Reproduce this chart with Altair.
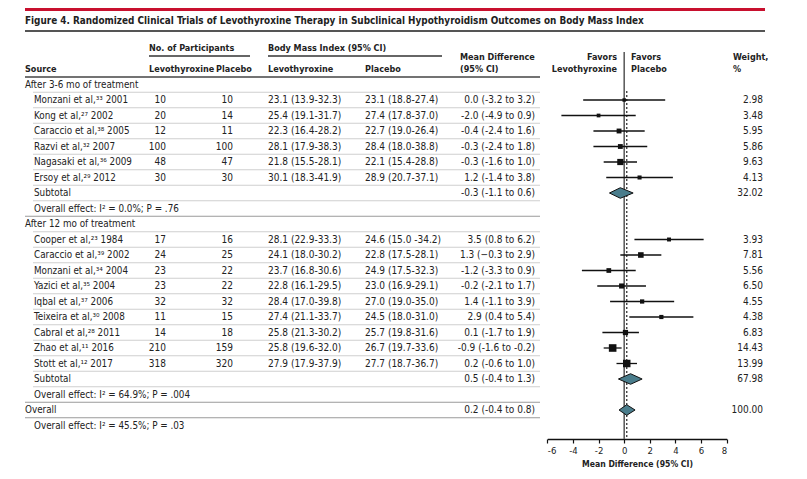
import altair as alt
import pandas as pd

FONT = "DejaVu Sans Condensed, Liberation Sans Narrow, Roboto, sans-serif"
OX, OY = 8, 18  # page offset of the plot origin

# ---------------- data ----------------
source = [
    "After 3-6 mo of treatment",
    "Monzani et al,\u00b3\u00b3 2001",
    "Kong et al,\u00b2\u2077 2002",
    "Caraccio et al,\u00b3\u2078 2005",
    "Razvi et al,\u00b3\u00b2 2007",
    "Nagasaki et al,\u00b3\u2076 2009",
    "Ersoy et al,\u00b2\u2079 2012",
    "Subtotal",
    "Overall effect: I\u00b2 = 0.0%; P = .76",
    "After 12 mo of treatment",
    "Cooper et al,\u00b2\u00b3 1984",
    "Caraccio et al,\u00b3\u2079 2002",
    "Monzani et al,\u00b3\u2074 2004",
    "Yazici et al,\u00b3\u2075 2004",
    "Iqbal et al,\u00b3\u2077 2006",
    "Teixeira et al,\u00b3\u2070 2008",
    "Cabral et al,\u00b2\u2078 2011",
    "Zhao et al,\u00b9\u00b9 2016",
    "Stott et al,\u00b9\u00b2 2017",
    "Subtotal",
    "Overall effect: I\u00b2 = 64.9%; P = .004",
    "Overall",
    "Overall effect: I\u00b2 = 45.5%; P = .03",
]
group_rows = [0, 9, 21]

n_levo = ["", "10", "20", "12", "100", "48", "30", "", "", "",
          "17", "24", "23", "23", "32", "11", "14", "210", "318", "", "", "", ""]
n_plac = ["", "10", "14", "11", "100", "47", "30", "", "", "",
          "16", "25", "22", "22", "32", "15", "18", "159", "320", "", "", "", ""]
bmi_levo = ["", "23.1 (13.9-32.3)", "25.4 (19.1-31.7)", "22.3 (16.4-28.2)", "28.1 (17.9-38.3)",
            "21.8 (15.5-28.1)", "30.1 (18.3-41.9)", "", "", "",
            "28.1 (22.9-33.3)", "24.1 (18.0-30.2)", "23.7 (16.8-30.6)", "22.8 (16.1-29.5)",
            "28.4 (17.0-39.8)", "27.4 (21.1-33.7)", "25.8 (21.3-30.2)", "25.8 (19.6-32.0)",
            "27.9 (17.9-37.9)", "", "", "", ""]
bmi_plac = ["", "23.1 (18.8-27.4)", "27.4 (17.8-37.0)", "22.7 (19.0-26.4)", "28.4 (18.0-38.8)",
            "22.1 (15.4-28.8)", "28.9 (20.7-37.1)", "", "", "",
            "24.6 (15.0 -34.2)", "22.8 (17.5-28.1)", "24.9 (17.5-32.3)", "23.0 (16.9-29.1)",
            "27.0 (19.0-35.0)", "24.5 (18.0-31.0)", "25.7 (19.8-31.6)", "26.7 (19.7-33.6)",
            "27.7 (18.7-36.7)", "", "", "", ""]
md_text = ["", "0.0 (-3.2 to 3.2)", "-2.0 (-4.9 to 0.9)", "-0.4 (-2.4 to 1.6)", "-0.3 (-2.4 to 1.8)",
           "-0.3 (-1.6 to 1.0)", "1.2 (-1.4 to 3.8)", "-0.3 (-1.1 to 0.6)", "", "",
           "3.5 (0.8 to 6.2)", "1.3 (\u22120.3 to 2.9)", "-1.2 (-3.3 to 0.9)", "-0.2 (-2.1 to 1.7)",
           "1.4 (-1.1 to 3.9)", "2.9 (0.4 to 5.4)", "0.1 (-1.7 to 1.9)", "-0.9 (-1.6 to -0.2)",
           "0.2 (-0.6 to 1.0)", "0.5 (-0.4 to 1.3)", "", "0.2 (-0.4 to 0.8)", ""]
weight_text = ["", "2.98", "3.48", "5.95", "5.86", "9.63", "4.13", "32.02", "", "",
               "3.93", "7.81", "5.56", "6.50", "4.55", "4.38", "6.83", "14.43", "13.99",
               "67.98", "", "100.00", ""]

# individual studies (as plotted)
study_rows = [1, 2, 3, 4, 5, 6, 10, 11, 12, 13, 14, 15, 16, 17, 18]
study_md = [0.0, -2.0, -0.4, -0.3, -0.3, 1.2, 3.5, 1.3, -1.2, -0.2, 1.4, 2.9, 0.1, -0.9, 0.2]
study_lo = [-3.2, -4.9, -2.4, -2.4, -1.6, -1.4, 0.8, -0.3, -3.3, -2.1, -1.1, 0.4, -1.7, -1.6, -0.6]
study_hi = [3.2, 0.9, 1.6, 1.8, 1.0, 3.8, 6.2, 2.9, 0.9, 1.7, 3.9, 5.4, 1.15, -0.2, 1.0]
study_w = [2.98, 3.48, 5.95, 5.86, 9.63, 4.13, 3.93, 7.81, 5.56, 6.50, 4.55, 4.38, 6.83, 14.43, 13.99]

# pooled estimates (diamonds)
pool_rows = [7, 19, 21]
pool_md = [-0.3, 0.5, 0.2]
pool_lo = [-1.15, -0.45, -0.4]
pool_hi = [0.7, 1.4, 0.85]
overall_md = 0.2

# separator lines under rows
sep_rows = list(range(22))
sep_major = [8, 20, 21]

# ---------------- frames ----------------
n = len(source)
table = pd.DataFrame({
    "row": list(range(n)),
    "source": source,
    "n_levo": n_levo, "n_plac": n_plac,
    "bmi_levo": bmi_levo, "bmi_plac": bmi_plac,
    "md_text": md_text, "weight": weight_text,
})
table["indent"] = [0 if i in group_rows else 1 for i in range(n)]

studies = pd.DataFrame({"row": study_rows, "md": study_md, "lo": study_lo,
                        "hi": study_hi, "w": study_w})

H = 0.34
dia = []
for k, (r, m, lo, hi) in enumerate(zip(pool_rows, pool_md, pool_lo, pool_hi)):
    dia += [
        {"id": k, "x": lo, "y1": r, "y2": r},
        {"id": k, "x": m, "y1": r - H, "y2": r + H},
        {"id": k, "x": hi, "y1": r, "y2": r},
    ]
diamonds = pd.DataFrame(dia)

seps = pd.DataFrame({"yy": [r + 0.5 for r in sep_rows],
                     "major": [r in sep_major for r in sep_rows]})
seps["x0"] = [25 - OX if (r in sep_major) else 33 - OX for r in sep_rows]

one = pd.DataFrame({"a": [0]})

# ---------------- scales ----------------
yscale = alt.Scale(domain=[0, 22], range=[84.5 - OY, 425.5 - OY], zero=False, nice=False)
xscale = alt.Scale(domain=[-6, 8], range=[547.3 - OX, 726.7 - OX], zero=False, nice=False)
xaxis = alt.Axis(values=[-6, -4, -2, 0, 2, 4, 6, 8], title="Mean Difference (95% CI)",
                 grid=False, domainColor="#111", domainWidth=1.3, tickColor="#111",
                 tickWidth=1.2, tickSize=4, labelFont=FONT, labelFontSize=9.5,
                 labelColor="#222", labelPadding=2, labelExpr="toString(datum.value)",
                 titleFont=FONT, titleFontSize=8.6, titleFontWeight="bold",
                 titleColor="#222", titlePadding=5)
Y = lambda f: alt.Y(f, scale=yscale, axis=None)
X = lambda f: alt.X(f, scale=xscale, axis=xaxis)

HS = 9.0   # header font size
TS = 10    # table font size


def label(txt, px, py, align="left", bold=True, size=HS, color="#222"):
    return alt.Chart(one).mark_text(
        text=txt, align=align, baseline="middle", font=FONT, fontSize=size,
        fontWeight="bold" if bold else "normal", color=color,
    ).encode(x=alt.value(px - OX), y=alt.value(py - OY))


def hline(x0, x1, py, color="#444", width=1.5):
    return alt.Chart(one).mark_rule(color=color, strokeWidth=width).encode(
        x=alt.value(x0 - OX), x2=alt.value(x1 - OX), y=alt.value(py - OY))


def col(field, px, align, data=table, size=TS):
    return alt.Chart(data).mark_text(
        align=align, baseline="middle", font=FONT, fontSize=size, color="#222",
    ).encode(x=alt.value(px - OX), y=Y("row:Q"), text=f"{field}:N")


layers = []
# title band
layers.append(hline(25, 765, 9.5, color="#c8102e", width=3))
layers.append(label("Figure 4. Randomized Clinical Trials of Levothyroxine Therapy in Subclinical "
                    "Hypothyroidism Outcomes on Body Mass Index", 25, 20.5, size=9.9))
layers.append(hline(25, 765, 31, color="#555", width=2))

# column headers
layers += [
    label("No. of Participants", 149, 48),
    hline(149, 250, 56, color="#333", width=1.3),
    label("Body Mass Index (95% CI)", 268, 48),
    hline(268, 442, 56, color="#333", width=1.3),
    label("Mean Difference", 460, 57),
    label("(95% CI)", 460, 69),
    label("Source", 25, 69),
    label("Levothyroxine", 149, 69),
    label("Placebo", 216, 69),
    label("Levothyroxine", 268, 69),
    label("Placebo", 365, 69),
    label("Favors", 617, 57, align="right"),
    label("Levothyroxine", 617, 69, align="right"),
    label("Favors", 631, 57),
    label("Placebo", 631, 69),
    label("Weight,", 733, 57),
    label("%", 733, 69),
    hline(25, 540, 77, color="#444", width=1.5),
]

# row separators
layers.append(alt.Chart(seps).mark_rule(strokeWidth=1).encode(
    x=alt.X("x0:Q", scale=None), x2=alt.value(540 - OX), y=Y("yy:Q"),
    color=alt.condition("datum.major", alt.value("#9a9a9a"), alt.value("#cfcfcf"))))

# table text
grp = table[table["indent"] == 0]
sub = table[table["indent"] == 1]
layers += [
    col("source", 25, "left", data=grp, size=9.8),
    col("source", 34, "left", data=sub, size=9.8),
    col("n_levo", 166, "right"),
    col("n_plac", 233, "right"),
    col("bmi_levo", 268, "left"),
    col("bmi_plac", 365, "left"),
    col("md_text", 535, "right"),
    col("weight", 763, "right"),
]

# forest plot
layers.append(alt.Chart(one).mark_rule(color="#555", strokeWidth=1.5).encode(
    x=X("zero:Q"), y=alt.value(52 - OY), y2=alt.value(439 - OY)
).transform_calculate(zero="0"))
layers.append(alt.Chart(one).mark_rule(color="#333", strokeWidth=1.3, strokeDash=[2, 2]).encode(
    x=X("ov:Q"), y=alt.value(91 - OY), y2=alt.value(439 - OY)
).transform_calculate(ov=str(overall_md)))
layers.append(alt.Chart(studies).mark_rule(color="#111", strokeWidth=1.3).encode(
    x=X("lo:Q"), x2="hi:Q", y=Y("row:Q")))
layers.append(alt.Chart(studies).mark_square(color="#111", opacity=1, filled=True).encode(
    x=X("md:Q"), y=Y("row:Q"),
    size=alt.Size("w:Q", scale=alt.Scale(domain=[0, 15], range=[0, 60]), legend=None)))
layers.append(alt.Chart(diamonds).mark_area(
    orient="vertical", fill="#4a7d8c", stroke="#111", strokeWidth=1, opacity=1, fillOpacity=1
).encode(x=X("x:Q"), y=Y("y1:Q"), y2="y2:Q", detail="id:N"))

chart = alt.layer(*layers).properties(
    width=791, height=439 - OY,
    padding={"left": 0, "top": OY - 8, "right": 0, "bottom": 40},
    autosize=alt.AutoSizeParams(type="none"),
    background="white",
).configure_view(stroke=None)

chart.save("out.html", embed_options={"renderer": "svg", "actions": False})
